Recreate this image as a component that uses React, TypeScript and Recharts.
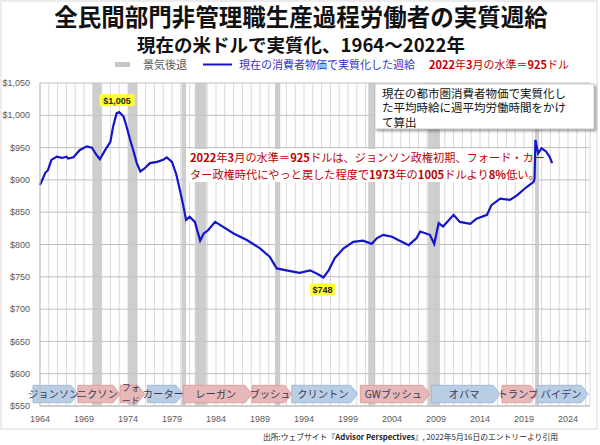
import React from 'react';
import { LineChart, Line, XAxis, YAxis, CartesianGrid, ReferenceArea, ReferenceDot } from 'recharts';

const years = [1964.0, 1964.6, 1964.9, 1965.3, 1965.9, 1966.5, 1967.0, 1967.2, 1967.8, 1968.5, 1969.3, 1969.9, 1970.4, 1970.8, 1971.4, 1972.0, 1972.3, 1972.7, 1973.0, 1973.5, 1973.85, 1974.2, 1974.6, 1975.0, 1975.4, 1975.9, 1976.5, 1977.3, 1978.0, 1978.4, 1979.0, 1979.5, 1979.9, 1980.3, 1980.6, 1981.0, 1981.6, 1982.2, 1982.6, 1983.1, 1983.9, 1984.5, 1986.0, 1987.5, 1989.0, 1990.1, 1990.9, 1992.0, 1993.5, 1994.7, 1995.6, 1996.2, 1996.8, 1997.5, 1998.5, 1999.6, 2000.7, 2001.7, 2002.3, 2003.0, 2004.0, 2004.7, 2005.9, 2006.8, 2007.2, 2008.3, 2008.8, 2009.3, 2009.8, 2011.0, 2011.7, 2012.9, 2013.6, 2014.8, 2015.3, 2016.3, 2017.4, 2018.2, 2019.3, 2020.1, 2020.2, 2020.3, 2020.6, 2021.0, 2021.5, 2021.9, 2022.2];
const wages = [892, 911, 915, 931, 936, 934, 936, 933, 935, 946, 952, 950, 939, 932, 946, 959, 982, 1003, 1005, 998, 982, 964, 946, 926, 913, 918, 926, 928, 931, 935, 928, 908, 884, 859, 838, 843, 835, 806, 817, 822, 835, 830, 817, 807, 794, 781, 763, 760, 756, 760, 754, 749, 760, 779, 794, 804, 806, 801, 810, 815, 812, 807, 799, 810, 820, 815, 801, 833, 828, 846, 835, 832, 840, 846, 861, 871, 869, 876, 889, 897, 902, 962, 941, 949, 944, 936, 926];

const recessionStarts = [1970.0, 1974.0, 1980.1, 1981.6, 1990.7, 2001.3, 2008.1, 2020.25];
const recessionEnds = [1971.0, 1975.05, 1980.6, 1982.9, 1991.3, 2002.1, 2009.45, 2020.7];

const presidentNames = ['ジョンソン', 'ニクソン', 'フォード', 'カーター', 'レーガン', 'ブッシュ', 'クリントン', 'GWブッシュ', 'オバマ', 'トランプ', 'バイデン'];
const presidentStarts = [1963.2, 1968.3, 1973.1, 1976.2, 1980.25, 1988.1, 1992.6, 2000.4, 2008.5, 2016.5, 2020.5];
const presidentEnds = [1968.3, 1973.1, 1975.9, 1980.25, 1988.1, 1992.6, 2000.1, 2008.3, 2016.3, 2020.5, 2026.3];
const presidentParty = ['D', 'R', 'R', 'D', 'R', 'R', 'D', 'R', 'D', 'R', 'D'];

const yTicks = [550, 600, 650, 700, 750, 800, 850, 900, 950, 1000, 1050];
const xLabelStart = 1964;
const xGridYears = Array.from({ length: 63 }, (_, i) => 1964 + i);

const data = years.map((y, i) => ({ year: y, wage: wages[i] }));

const FONT = '"Noto Sans CJK JP", "Noto Sans", sans-serif';
const AXFONT = '"Liberation Sans", Arial, sans-serif';

function presShape(name: string, party: string) {
  return (props: any) => {
    const { x, y, width, height } = props;
    const fill = party === 'D' ? '#b9cde5' : '#e6b9b8';
    const stroke = party === 'D' ? '#95b3d7' : '#d99694';
    const tip = 7;
    const pts = `${x},${y} ${x + width - tip},${y} ${x + width},${y + height / 2} ${x + width - tip},${y + height} ${x},${y + height}`;
    const cx = x + (width - tip / 2) / 2;
    const cy = y + height / 2;
    const lines = name === 'フォード' ? ['フォ', 'ード'] : [name];
    return (
      <g>
        <polygon points={pts} fill={fill} stroke={stroke} strokeWidth={0.8} />
        {lines.length === 1 ? (
          <text x={cx} y={cy + 4} textAnchor="middle" fontSize={10.3} fontFamily={FONT} fill="#3a3a5a">
            {name}
          </text>
        ) : (
          <g>
            <text x={cx} y={cy - 3} textAnchor="middle" fontSize={9} fontFamily={FONT} fill="#3a3a5a">{lines[0]}</text>
            <text x={cx} y={cy + 10} textAnchor="middle" fontSize={9} fontFamily={FONT} fill="#3a3a5a">{lines[1]}</text>
          </g>
        )}
      </g>
    );
  };
}

function yellowLabel(text: string, dy: number) {
  return (props: any) => {
    const { cx, cy } = props;
    const w = text.length * 5.2 + 4;
    return (
      <g>
        <rect x={cx - w / 2} y={cy + dy - 6} width={w} height={12} fill="#ffff33" />
        <text x={cx} y={cy + dy + 3.5} textAnchor="middle" fontSize={9} fontWeight="bold" fontFamily={AXFONT} fill="#222">
          {text}
        </text>
      </g>
    );
  };
}

export default function App() {
  return (
    <div style={{ position: 'absolute', left: 0, top: 0, width: 600, height: 445, background: '#fff' }}>
      <LineChart width={600} height={445} data={data} margin={{ top: 83, right: 10, bottom: 9, left: 0 }}>
        <CartesianGrid horizontal={false} stroke="#d9d9d9" strokeWidth={1} />
        <CartesianGrid vertical={false} stroke="#bfbfbf" strokeWidth={1} />
        {recessionStarts.map((s, i) => (
          <ReferenceArea key={'r' + i} x1={s} x2={recessionEnds[i]} y1={550} y2={1050} fill="#c6c6c6" fillOpacity={0.85} stroke="none" />
        ))}
        <XAxis
          type="number"
          dataKey="year"
          domain={[1964, 2026.5]}
          ticks={xGridYears}
          interval={0}
          tickFormatter={(v: number) => ((v - xLabelStart) % 5 === 0 ? String(v) : '')}
          tick={{ fontSize: 9, fill: '#595959', fontFamily: AXFONT }}
          tickLine={false}
          axisLine={{ stroke: '#bfbfbf' }}
          height={30}
          tickMargin={4}
        />
        <YAxis
          type="number"
          domain={[550, 1050]}
          ticks={yTicks}
          interval={0}
          width={40}
          tickFormatter={(v: number) => '$' + v.toLocaleString('en-US')}
          tick={{ fontSize: 9, fill: '#595959', fontFamily: AXFONT }}
          tickLine={false}
          axisLine={{ stroke: '#bfbfbf' }}
          tickMargin={4}
        />
        {presidentNames.map((n, i) => (
          <ReferenceArea
            key={'p' + i}
            x1={presidentStarts[i]}
            x2={presidentEnds[i]}
            y1={555}
            y2={582}
            ifOverflow="visible"
            shape={presShape(n, presidentParty[i])}
          />
        ))}
        <Line type="linear" dataKey="wage" stroke="#1414cc" strokeWidth={2.2} dot={false} isAnimationActive={false} />
        <ReferenceDot x={1972.75} y={1005} r={0} ifOverflow="visible" shape={yellowLabel('$1,005', -12)} />
        <ReferenceDot x={1996.1} y={749} r={0} ifOverflow="visible" shape={yellowLabel('$748', 12)} />
      </LineChart>
      <svg width={600} height={445} style={{ position: 'absolute', left: 0, top: 0, pointerEvents: 'none' }}>
        <rect x={1} y={1} width={596} height={428} fill="none" stroke="#d9d9d9" />
        <text x={301} y={26} textAnchor="middle" fontSize={23.5} fontFamily={FONT} fontWeight={700} fill="#111">
          全民間部門非管理職生産過程労働者の実質週給
        </text>
        <text x={301} y={51.5} textAnchor="middle" fontSize={18.5} fontFamily={FONT} fontWeight={700} fill="#111">
          現在の米ドルで実質化、1964～2022年
        </text>
        <rect x={115} y={62} width={15} height={5} fill="#c6c6c6" />
        <text x={143} y={68.5} fontSize={11} fontFamily={FONT} fill="#595959">景気後退</text>
        <line x1={203} y1={64.5} x2={232} y2={64.5} stroke="#1414cc" strokeWidth={2} />
        <text x={239} y={68.5} fontSize={11} fontFamily={FONT} fill="#3333cc">現在の消費者物価で実質化した週給</text>
        <text x={429} y={68.5} fontSize={11} fontFamily={FONT} fill="#c00000">
          <tspan fontWeight={700}>2022</tspan>年<tspan fontWeight={700}>3</tspan>月の水準＝<tspan fontWeight={700}>925</tspan>ドル
        </text>
        <rect x={375} y={84} width={219} height={45} fill="#fff" stroke="#bfbfbf" strokeWidth={0.8} style={{ filter: 'drop-shadow(2px 2px 1px rgba(0,0,0,0.35))' }} />
        <text x={382} y={97.5} fontSize={11.5} fontFamily={FONT} fill="#111">現在の都市圏消費者物価で実質化し</text>
        <text x={382} y={112} fontSize={11.5} fontFamily={FONT} fill="#111">た平均時給に週平均労働時間をかけ</text>
        <text x={382} y={126.5} fontSize={11.5} fontFamily={FONT} fill="#111">て算出</text>
        <rect x={186} y={149} width={344} height={33} fill="#fff" />
        <text x={190} y={162} fontSize={11.2} fontFamily={FONT} fill="#c00000">
          <tspan fontWeight={700}>2022</tspan>年<tspan fontWeight={700}>3</tspan>月の水準＝<tspan fontWeight={700}>925</tspan>ドルは、ジョンソン政権初期、フォード・カー
        </text>
        <text x={190} y={179} fontSize={11.2} fontFamily={FONT} fill="#c00000">
          ター政権時代にやっと戻した程度で<tspan fontWeight={700}>1973</tspan>年の<tspan fontWeight={700}>1005</tspan>ドルより<tspan fontWeight={700}>8%</tspan>低い。
        </text>
        <text x={558} y={440} textAnchor="end" fontSize={7.8} fontFamily={FONT} fill="#222">
          出所:ウェブサイト『<tspan fontWeight={700}>Advisor Perspectives</tspan>』, 2022年5月16日のエントリーより引用
        </text>
      </svg>
    </div>
  );
}
